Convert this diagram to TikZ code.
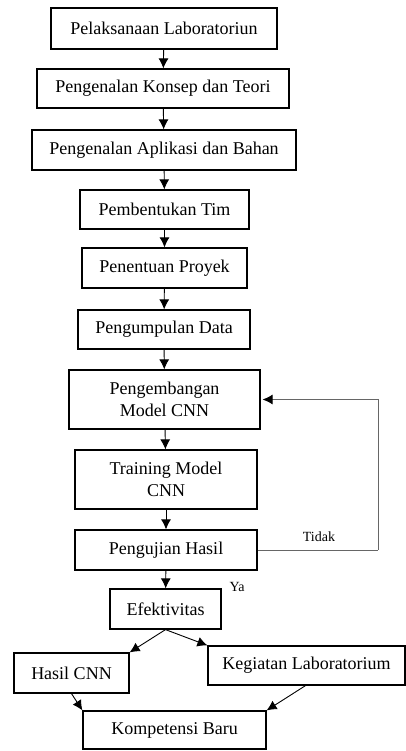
\documentclass[tikz,border=0pt]{standalone}
\usepackage{fontspec}
\setmainfont{Liberation Serif}
\usepackage{tikz}
\usetikzlibrary{arrows.meta}
\tikzstyle{stepbox}=[draw, line width=1.2pt, fill=white, inner sep=0pt, align=center, font=\fontsize{18}{22}\selectfont]
\tikzstyle{flow}=[line width=0.9pt, -{Latex[length=10pt,width=10pt]}]
\tikzstyle{loopback}=[line width=0.9pt, draw=black!60]
\tikzstyle{answer}=[font=\fontsize{14}{16}\selectfont]
\newcommand{\flowBox}[6]{
	\node[stepbox, minimum width=#4pt, minimum height=#5pt] (#1) at (#2pt,#3pt) {#6};
}

\begin{document}
\begin{tikzpicture}
	\useasboundingbox (0,0) rectangle (406pt,-751pt);
%
	\flowBox{lab}{164}{-28.5}{226}{41}{Pelaksanaan Laboratoriun}
	\flowBox{konsep}{163}{-88.5}{252}{39}{Pengenalan Konsep dan Teori}
	\flowBox{aplikasi}{164}{-150}{264}{40}{Pengenalan Aplikasi dan Bahan}
	\flowBox{tim}{164.5}{-209.5}{169}{39}{Pembentukan Tim}
	\flowBox{proyek}{164.5}{-268}{165}{40}{Penentuan Proyek}
	\flowBox{data}{164}{-329.5}{172}{39}{Pengumpulan Data}
	\flowBox{model}{164.5}{-399.5}{191}{59}{Pengembangan\\Model CNN}
	\flowBox{training}{166}{-479.5}{182}{59}{Training Model\\CNN}
	\flowBox{uji}{166}{-550}{182}{40}{Pengujian Hasil}
	\flowBox{efek}{165.5}{-609}{111}{40}{Efektivitas}
	\flowBox{hasil}{71.5}{-673}{115}{40}{Hasil CNN}
	\flowBox{kegiatan}{306.5}{-665.5}{197}{39}{Kegiatan Laboratorium}
	\flowBox{kompetensi}{174.5}{-730}{183}{38}{Kompetensi Baru}
%
	\draw[flow] (lab) -- (konsep);
	\draw[flow] (konsep) -- (aplikasi);
	\draw[flow] (aplikasi) -- (tim);
	\draw[flow] (tim) -- (proyek);
	\draw[flow] (proyek) -- (data);
	\draw[flow] (data) -- (model);
	\draw[flow] (model) -- (training);
	\draw[flow] (training) -- (uji);
	\draw[flow] (uji) -- (efek);
	\draw[flow] (efek.south) -- (hasil.north east);
	\draw[flow] (efek.south) -- (kegiatan.north west);
	\draw[flow] (hasil.south) -- (kompetensi.north west);
	\draw[flow] ([xshift=-1pt]kegiatan.south) -- (kompetensi.north east);
%
	\coordinate (turn) at (378pt,-550pt);
	\draw[loopback] (uji.east) -- (turn);
	\draw[loopback, -{Latex[length=10pt,width=10pt,color=black]}] (turn) |- ([xshift=2pt]model.east);
%
	\node[answer] (tidak) at (319pt,-537pt) {Tidak};
	\node[answer] (ya) at (237pt,-587pt) {Ya};
\end{tikzpicture}
\end{document}
